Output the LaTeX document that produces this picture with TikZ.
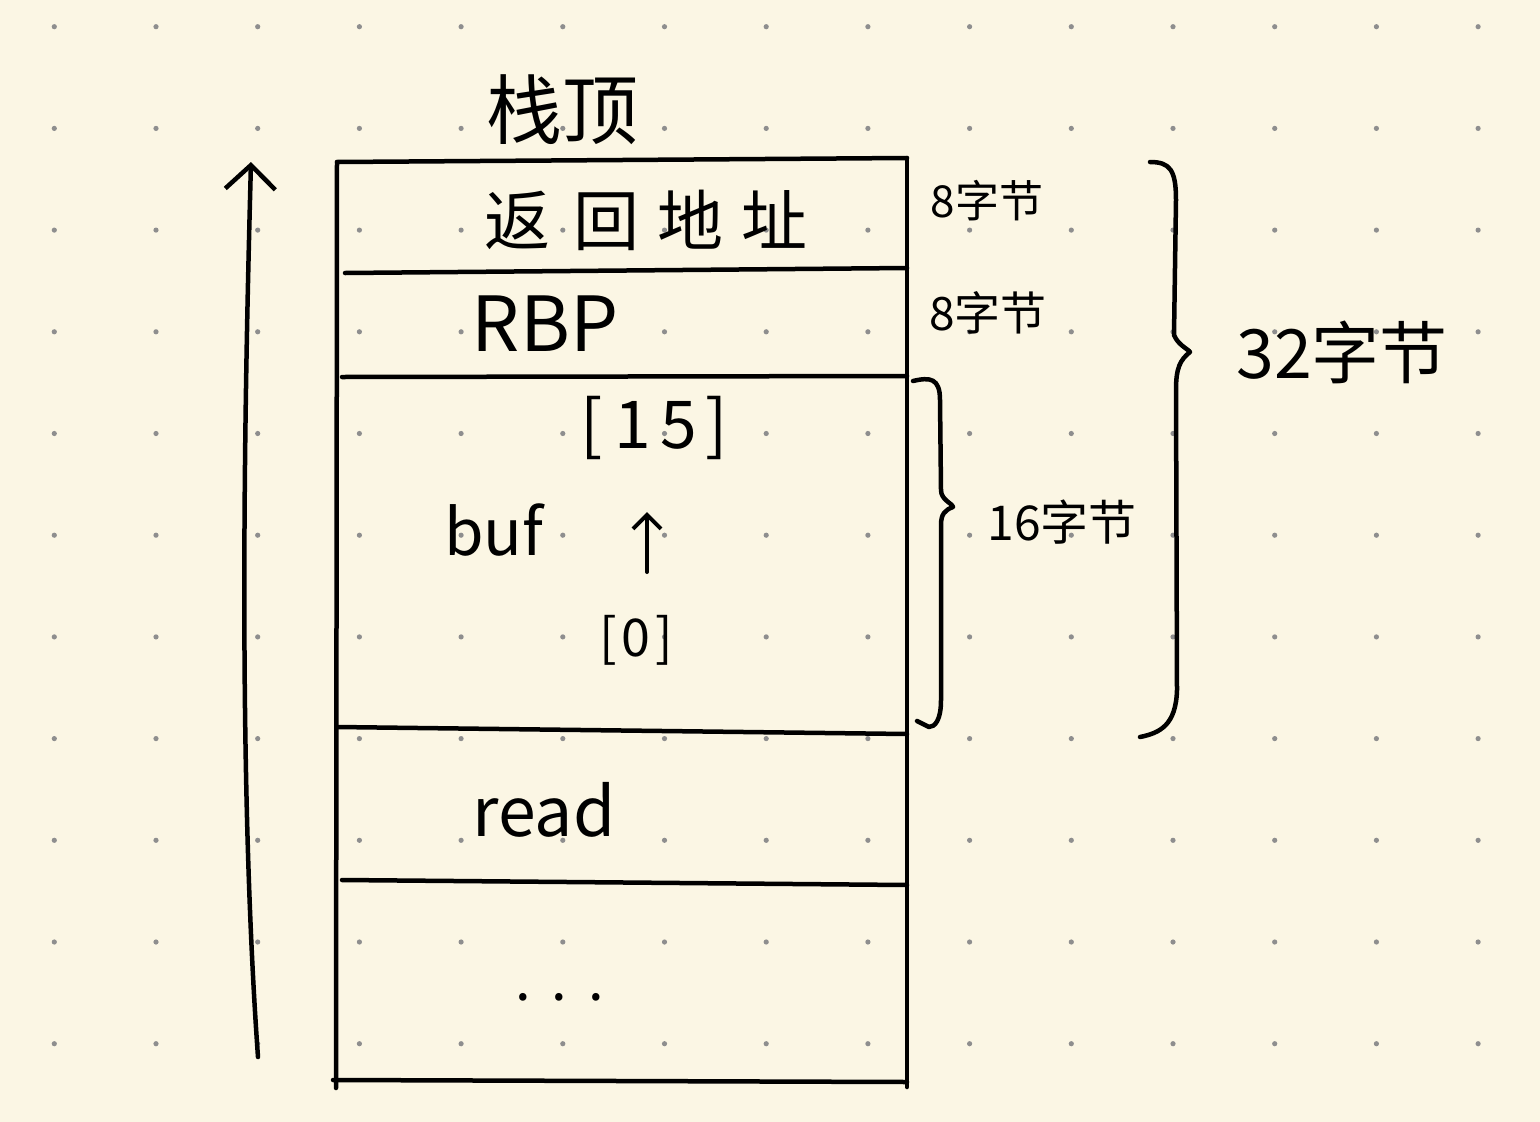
\documentclass[tikz,border=0pt]{standalone}
\usepackage{fontspec}
\setmainfont{Noto Sans CJK SC}
\usetikzlibrary{arrows.meta}
\definecolor{paper}{HTML}{FBF6E4}
\definecolor{dotc}{HTML}{8E8E8E}
\newcommand{\fsz}[1]{\fontsize{#1}{#1}\selectfont}
\begin{document}
\begin{tikzpicture}[x=1pt,y=-1pt,
  ink/.style={line width=4.5pt,line cap=round,line join=round,draw=black},
  lbl/.style={inner sep=0pt,text=black}]
\fill[paper] (0,0) rectangle (1540,1122);
\useasboundingbox (0,0) rectangle (1540,1122);
\foreach \i in {0,...,14}{\foreach \j in {0,...,10}{%
  \fill[dotc] ({54.3+101.7*\i},{26.7+101.7*\j}) circle (2.6);}}
% stack box
\draw[ink] (337,162) -- (907,158);
\draw[ink] (337,162) -- (336,1088);
\draw[ink] (907,158) -- (907,1087);
\draw[ink] (345,273) -- (907,268);
\draw[ink] (342,377) -- (907,376);
\draw[ink] (337,727) -- (907,734);
\draw[ink] (342,880) -- (907,885);
\draw[ink] (333,1080) -- (907,1082);
% growth arrow
\coordinate (gbot) at (258,1057);
\coordinate (gtop) at (251,162);
\draw[ink,-{Straight Barb[length=24pt,width=50pt,line width=4.5pt]}] (gbot) .. controls (236,750) and (246,350) .. (gtop);
% labels
\node[lbl] (top) at (562,110) {\fsz{76}栈顶};
\node[lbl] (ret) at (646,220) {\fsz{66}返\hspace{24pt}回\hspace{18pt}地\hspace{18pt}址};
\node[lbl] (rbp) at (545,324) {\fsz{76}RBP};
\node[lbl] (b15) at (654,428) {\fsz{66}[\hspace{12pt}1\hspace{10pt}5\hspace{8pt}]};
\node[lbl] (buf) at (494,530) {\fsz{64}buf};
\node[lbl] (b0) at (636,640) {\fsz{52}[\hspace{5pt}0\hspace{5pt}]};
\node[lbl] (read) at (544,810) {\fsz{68}read};
\node[lbl,anchor=base] (dots) at (560,1000) {\fsz{56}.\hspace{20pt}.\hspace{22pt}.};
\coordinate (ua) at (647,572);
\coordinate (ub) at (647,512);
\draw[ink,line width=4pt,-{Straight Barb[length=14pt,width=28pt,line width=4pt]}] (ua) -- (ub);
\node[lbl] (s1) at (987,201) {\fsz{44}8字节};
\node[lbl] (s2) at (988,313) {\fsz{46}8字节};
\node[lbl] (s3) at (1062,522) {\fsz{48}16字节};
\node[lbl] (s4) at (1342,352) {\fsz{68}32字节};
% braces
\draw[ink] (913,381) .. controls (930,377) and (940,378) .. (940,400) -- (941,490)
  .. controls (941,500) and (952,503) .. (953,507)
  .. controls (945,510) and (941,514) .. (941,525) -- (941,700)
  .. controls (941,720) and (935,727) .. (929,727) -- (917,721);
\draw[ink] (1150,162) .. controls (1170,162) and (1176,170) .. (1176,200) -- (1174,335)
  .. controls (1178,345) and (1188,349) .. (1190,352)
  .. controls (1180,360) and (1176,368) .. (1176,390) -- (1177,690)
  .. controls (1176,725) and (1160,733) .. (1140,737);
\end{tikzpicture}
\end{document}
